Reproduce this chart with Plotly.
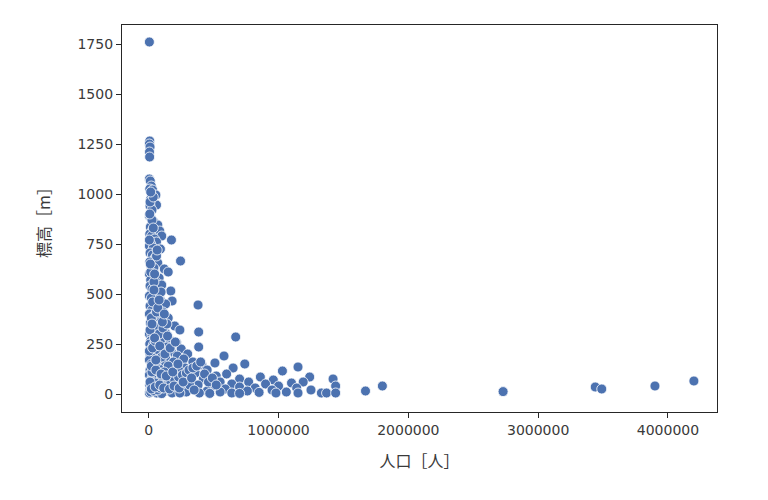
import plotly.graph_objects as go

# 人口 [人] and 標高 [m]
population = [
    5000, 8000, 5000, 10000, 6000, 7000, 5000, 12000, 20000, 8000,
    30000, 55000, 15000, 60000, 10000, 25000, 5000, 18000, 40000, 70000,
    12000, 30000, 85000, 100000, 8000, 22000, 45000, 175000, 60000, 15000,
    5000, 35000, 90000, 10000, 28000, 50000, 245000, 8000, 70000, 20000,
    40000, 120000, 150000, 5000, 30000, 80000, 15000, 55000, 100000, 10000,
    25000, 170000, 45000, 65000, 5000, 20000, 180000, 90000, 35000, 380000,
    130000, 10000, 60000, 25000, 110000, 5000, 45000, 75000, 150000, 20000,
    90000, 12000, 35000, 200000, 55000, 240000, 385000, 5000, 130000, 25000,
    70000, 670000, 45000, 110000, 160000, 15000, 90000, 215000, 385000, 8000,
    35000, 60000, 140000, 250000, 20000, 100000, 175000, 45000, 300000, 10000,
    75000, 220000, 580000, 130000, 30000, 270000, 5000, 60000, 340000, 190000,
    100000, 510000, 740000, 20000, 410000, 150000, 45000, 280000, 650000, 1150000,
    80000, 10000, 230000, 450000, 1030000, 120000, 35000, 360000, 600000, 180000,
    5000, 70000, 520000, 860000, 1240000, 250000, 25000, 140000, 420000, 700000,
    1420000, 960000, 95000, 320000, 15000, 550000, 770000, 1190000, 1100000, 200000,
    50000, 900000, 640000, 380000, 110000, 8000, 1000000, 1440000, 1800000, 3900000,
    260000, 700000, 3440000, 160000, 480000, 40000, 1140000, 820000, 3490000, 330000,
    590000, 80000, 1250000, 950000, 10000, 210000, 1670000, 450000, 130000, 760000,
    2730000, 1060000, 550000, 30000, 290000, 850000, 1330000, 1370000, 640000, 390000,
    5000, 60000, 180000, 980000, 1150000, 1440000, 240000, 100000, 470000, 700000,
    4200000, 15000, 40000, 70000, 90000, 120000, 150000, 170000, 200000, 230000,
    260000, 290000, 310000, 340000, 370000, 400000, 430000, 460000, 490000, 520000,
    10000, 25000, 50000, 75000, 100000, 5000, 30000, 50000, 80000, 110000,
    140000, 20000, 60000, 30000, 95000, 40000, 15000, 60000, 5000, 25000,
    10000, 35000, 20000, 50000, 85000, 115000, 160000, 195000, 235000, 275000,
    315000, 350000, 20000, 55000, 95000, 135000, 185000, 225000, 265000, 330000,
    10000, 45000, 85000, 125000, 165000, 205000, 12000, 40000, 70000, 105000,
    145000, 8000, 35000, 65000, 15000, 45000, 80000, 25000, 120000, 55000,
]
elevation = [
    1760, 1265, 1250, 1235, 1210, 1185, 1075, 1065, 1040, 1025,
    1020, 995, 975, 945, 940, 920, 890, 880, 860, 845,
    835, 820, 815, 790, 800, 790, 775, 770, 760, 750,
    740, 730, 725, 705, 695, 680, 665, 660, 655, 640,
    630, 625, 610, 600, 595, 580, 570, 560, 545, 540,
    525, 515, 510, 500, 490, 480, 465, 470, 455, 445,
    450, 440, 430, 420, 410, 400, 395, 385, 380, 370,
    360, 355, 345, 340, 335, 320, 310, 300, 305, 295,
    290, 285, 280, 275, 270, 265, 260, 255, 235, 250,
    245, 240, 235, 225, 225, 220, 210, 205, 200, 200,
    195, 190, 190, 185, 180, 175, 170, 165, 160, 160,
    155, 155, 150, 150, 145, 140, 135, 130, 130, 135,
    125, 120, 120, 120, 115, 110, 105, 105, 100, 95,
    95, 90, 90, 85, 85, 80, 80, 75, 75, 75,
    75, 70, 70, 65, 65, 60, 60, 60, 55, 55,
    55, 50, 50, 45, 45, 45, 40, 40, 40, 40,
    40, 35, 35, 35, 35, 30, 30, 30, 25, 25,
    25, 25, 20, 20, 20, 20, 15, 15, 15, 15,
    12, 10, 10, 10, 10, 8, 5, 5, 5, 5,
    5, 5, 5, 5, 5, 5, 5, 2, 3, 3,
    65, 10, 15, 20, 30, 40, 50, 60, 70, 85,
    95, 105, 120, 130, 140, 160, 100, 60, 80, 45,
    60, 110, 150, 175, 185, 215, 230, 265, 300, 330,
    350, 380, 410, 460, 510, 560, 610, 690, 770, 870,
    960, 985, 25, 35, 45, 30, 25, 40, 30, 55,
    45, 20, 140, 120, 100, 90, 110, 150, 60, 80,
    320, 280, 240, 200, 230, 260, 650, 520, 430, 360,
    290, 900, 830, 720, 1010, 600, 470, 350, 400, 170,
]

fig = go.Figure()
fig.add_trace(go.Scatter(
    x=population, y=elevation, mode="markers",
    marker=dict(color="#4C72B0", size=10, line=dict(color="white", width=0.8)),
    showlegend=False,
))

axis_style = dict(
    showline=True, mirror=True, linecolor="#262626", linewidth=1.3,
    ticks="outside", ticklen=5, tickwidth=1.2, tickcolor="#262626",
    showgrid=False, zeroline=False, automargin=False,
    tickfont=dict(family="DejaVu Sans", size=14, color="#3a3a3a"),
)
fig.update_xaxes(axis_style, range=[-206000, 4378000], dtick=1000000, tick0=0,
                 tickformat="d",
                 title=dict(text="人口［人］", standoff=18,
                            font=dict(family="Noto Sans CJK JP", size=16, color="#3a3a3a")))
fig.update_yaxes(axis_style, range=[-90, 1845], dtick=250, tick0=0,
                 title=dict(text="標高［m］", standoff=22,
                            font=dict(family="Noto Sans CJK JP", size=16, color="#3a3a3a")))

fig.update_layout(
    width=768, height=500,
    margin=dict(l=114, r=59, t=17, b=96),
    plot_bgcolor="white", paper_bgcolor="white",
)
fig.write_html("out.html")
